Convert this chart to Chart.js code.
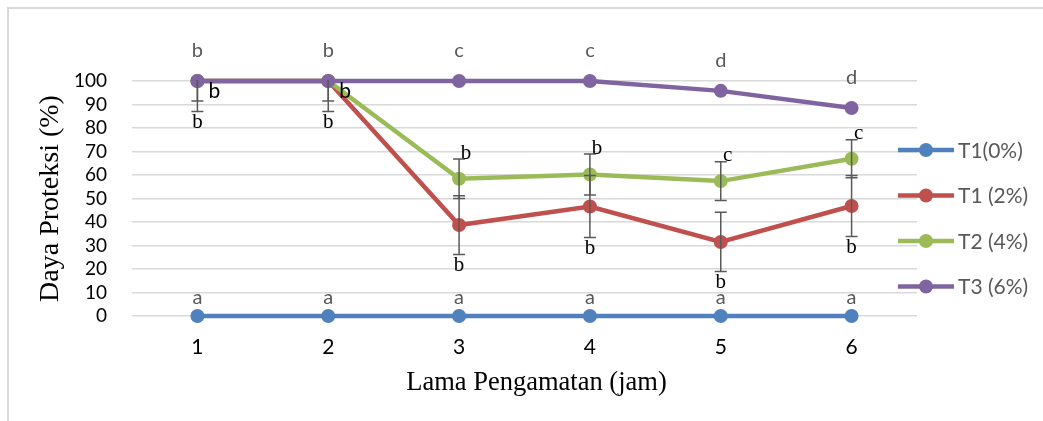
<!DOCTYPE html>
<html>
<head>
<meta charset="utf-8">
<script src="https://cdn.jsdelivr.net/npm/chart.js@4/dist/chart.umd.min.js"></script>
<style>
  html, body { margin: 0; padding: 0; background: #fff; }
  #wrap { position: relative; width: 1043px; height: 421px; }
  #frame { position: absolute; left: 7px; top: 7px; right: -5px; bottom: -5px; border-top: 2px solid #d9d9d9; border-left: 2px solid #d9d9d9; }
  canvas { position: absolute; left: 0; top: 0; }
</style>
</head>
<body>
<div id="wrap">
  <div id="frame"></div>
  <canvas id="myChart" width="1043" height="421"></canvas>
</div>
<script>
"use strict";

// data
var hours = ["1", "2", "3", "4", "5", "6"];
var seriesNames = ["T1(0%)", "T1 (2%)", "T2 (4%)", "T3 (6%)"];
var t0 = [0, 0, 0, 0, 0, 0];
var t2 = [100, 100, 38.7, 46.6, 31.5, 46.8];
var t4 = [100, 100, 58.4, 60.2, 57.4, 66.9];
var t6 = [100, 100, 100, 100, 95.8, 88.5];
var errT2 = [13, 13, 12.5, 13.2, 12.6, 13];
var errT4 = [8.5, 8.5, 8.4, 8.7, 8.2, 8.1];
// notasi huruf (uji lanjut)
var notT0 = ["a", "a", "a", "a", "a", "a"];
var notT2 = ["b", "b", "b", "b", "b", "b"];
var notT4 = ["b", "b", "b", "b", "c", "c"];
var notT6 = ["b", "b", "c", "c", "d", "d"];
var xTitle = "Lama Pengamatan (jam)";
var yTitle = "Daya Proteksi (%)";

var colors = ["#4f81bd", "#c0504d", "#9bbb59", "#8064a2"];
var sans = "Lato, 'Liberation Sans', sans-serif";
var serif = "'Liberation Serif', 'Times New Roman', serif";

function ds(i, values, order) {
    return {
        label: seriesNames[i],
        data: values,
        borderColor: colors[i],
        backgroundColor: colors[i],
        borderWidth: 4.5,
        pointRadius: 7,
        pointHoverRadius: 7,
        pointBorderWidth: 0,
        tension: 0,
        clip: false,
        order: order
    };
}

var extras = {
    id: "extras",
    afterDatasetsDraw: function (chart) {
        var ctx = chart.ctx;
        var xs = chart.scales.x, ys = chart.scales.y, area = chart.chartArea;

        // error bars
        ctx.save();
        ctx.beginPath();
        ctx.rect(area.left, area.top - 1, area.right - area.left, area.bottom - area.top + 2);
        ctx.clip();
        ctx.strokeStyle = "#595959";
        ctx.lineWidth = 1.5;
        [[t2, errT2], [t4, errT4]].forEach(function (pair) {
            pair[0].forEach(function (v, i) {
                var x = xs.getPixelForValue(i);
                var y1 = ys.getPixelForValue(v + pair[1][i]);
                var y2 = ys.getPixelForValue(v - pair[1][i]);
                ctx.beginPath();
                ctx.moveTo(x, y1); ctx.lineTo(x, y2);
                ctx.moveTo(x - 6, y1); ctx.lineTo(x + 6, y1);
                ctx.moveTo(x - 6, y2); ctx.lineTo(x + 6, y2);
                ctx.stroke();
            });
        });
        ctx.restore();

        // letters
        ctx.save();
        ctx.textAlign = "center";
        ctx.textBaseline = "middle";
        ctx.fillStyle = "#595959";
        ctx.font = "20px " + sans;
        t6.forEach(function (v, i) {
            ctx.fillText(notT6[i], xs.getPixelForValue(i), ys.getPixelForValue(v) - 30);
        });
        t0.forEach(function (v, i) {
            ctx.fillText(notT0[i], xs.getPixelForValue(i), ys.getPixelForValue(v) - 18);
        });
        ctx.fillStyle = "#000";
        t2.forEach(function (v, i) {
            ctx.font = "21px " + serif;
            ctx.fillText(notT2[i], xs.getPixelForValue(i), ys.getPixelForValue(v - errT2[i]) + 11);
        });
        t4.forEach(function (v, i) {
            var x = xs.getPixelForValue(i);
            if (v + errT4[i] > ys.max) {
                ctx.font = "21px " + sans;
                ctx.fillText(notT4[i], x + 17, ys.getPixelForValue(v) + 10);
            } else {
                ctx.font = "21px " + serif;
                ctx.fillText(notT4[i], x + 7, ys.getPixelForValue(v + errT4[i]) - 6);
            }
        });

        // x axis title (a bit right of the plot centre, as in the figure)
        ctx.font = "26.5px " + serif;
        ctx.fillText(xTitle, (area.left + area.right) / 2 + 12, 383);

        // legend
        ctx.textAlign = "left";
        ctx.font = "21px " + sans;
        seriesNames.forEach(function (name, i) {
            var y = 150 + i * 45.5;
            ctx.strokeStyle = colors[i];
            ctx.fillStyle = colors[i];
            ctx.lineWidth = 4.5;
            ctx.beginPath();
            ctx.moveTo(898, y); ctx.lineTo(954, y);
            ctx.stroke();
            ctx.beginPath();
            ctx.arc(926, y, 7, 0, Math.PI * 2);
            ctx.fill();
            ctx.fillStyle = "#595959";
            ctx.fillText(name, 958, y + 1);
        });
        ctx.restore();
    }
};

var ctx = document.getElementById("myChart");
var myChart = new Chart(ctx, {
    type: "line",
    data: {
        labels: hours,
        datasets: [ds(0, t0, 3), ds(1, t2, 2), ds(2, t4, 1), ds(3, t6, 0)]
    },
    options: {
        responsive: false,
        animation: false,
        events: [],
        layout: { padding: { left: 0, top: 81, right: 126, bottom: 0 } },
        plugins: { legend: { display: false }, tooltip: { enabled: false } },
        scales: {
            x: {
                offset: true,
                grid: { display: false, drawTicks: false },
                border: { display: false },
                ticks: { color: "#000", font: { family: sans, size: 21 }, padding: 19 },
                afterFit: function (s) { s.height = 105; }
            },
            y: {
                min: 0,
                max: 100,
                grid: { color: "#d9d9d9", lineWidth: 1.5, drawTicks: false },
                border: { display: false },
                ticks: { stepSize: 10, autoSkip: false, color: "#000", font: { family: sans, size: 19 }, padding: 25 },
                title: { display: true, text: yTitle, color: "#000", font: { family: serif, size: 28 }, padding: { top: 34, bottom: 0 } },
                afterFit: function (s) { s.width = 132; }
            }
        }
    },
    plugins: [extras]
});
</script>
</body>
</html>
